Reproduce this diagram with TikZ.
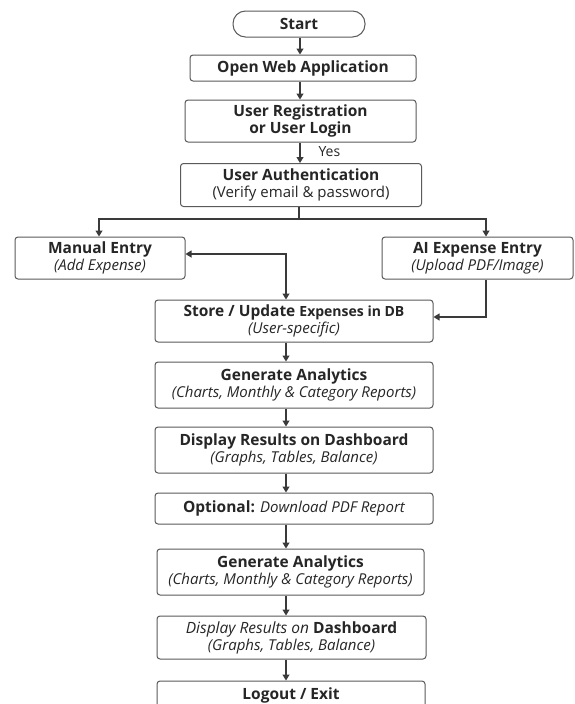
\documentclass[tikz,border=0pt]{standalone}
\usepackage{fontspec}
\setmainfont{Open Sans}
\usetikzlibrary{arrows.meta}
\definecolor{boxc}{HTML}{5A5A5A}
\definecolor{linec}{HTML}{3A3A3A}
\definecolor{txt}{HTML}{262626}
\newcommand\hd[1]{{\fontsize{15.5}{17}\selectfont\bfseries #1}}
\newcommand\sbt[1]{{\fontsize{15}{17}\selectfont\itshape #1}}
\begin{document}
\begin{tikzpicture}[x=1pt,y=-1pt,
  box/.style={draw=boxc, line width=1pt, rounded corners=3pt, fill=white, align=center, inner sep=0pt, text=txt, font=\fontsize{15}{17}\selectfont},
  arr/.style={draw=linec, line width=1.1pt, -{Triangle[width=7pt,length=6pt]}},
  arrtwo/.style={draw=linec, line width=1.1pt, {Triangle[width=7pt,length=6pt]}-{Triangle[width=7pt,length=6pt]}},
  plain/.style={draw=linec, line width=1.1pt},
]
\clip (0,0) rectangle (574,704);
\fill[white] (0,0) rectangle (574,704);

\node[box, rounded corners=12.5pt, minimum width=132pt, minimum height=26pt] (start) at (299,24) {\hd{Start}};
\node[box, minimum width=226pt, minimum height=26pt] (open) at (303,68) {\hd{Open Web Application}};
\node[box, minimum width=231pt, minimum height=42pt] (reg) at (300.5,121) {\hd{User Registration}\\\hd{or User Login}};
\node[box, minimum width=241pt, minimum height=43pt] (auth) at (301,185) {\hd{User Authentication}\\{\fontsize{15}{17}\selectfont (Verify email \& password)}};
\node[box, minimum width=170pt, minimum height=42pt] (man) at (100,258) {\hd{Manual Entry}\\\sbt{(Add Expense)}};
\node[box, minimum width=191pt, minimum height=42pt] (ai) at (477.5,258) {\hd{AI Expense Entry}\\\sbt{(Upload PDF/Image)}};
\node[box, minimum width=278pt, minimum height=42pt] (store) at (294,321) {\hd{Store / Update }{\fontsize{14}{17}\selectfont\bfseries Expenses in DB}\\\sbt{(User-specific)}};
\node[box, minimum width=278pt, minimum height=46pt] (gen) at (294,385) {\hd{Generate Analytics}\\\sbt{(Charts, Monthly \& Category Reports)}};
\node[box, minimum width=278pt, minimum height=46pt] (disp) at (294,450) {\hd{Display Results on Dashboard}\\\sbt{(Graphs, Tables, Balance)}};
\node[box, minimum width=278pt, minimum height=31pt] (opt) at (294,508.5) {\hd{Optional:} \sbt{Download PDF Report}};
\node[box, minimum width=267pt, minimum height=46pt] (gentwo) at (290.5,572) {\hd{Generate Analytics}\\\sbt{(Charts, Monthly \& Category Reports)}};
\node[box, minimum width=269pt, minimum height=43pt] (disptwo) at (291.5,637.5) {{\fontsize{15.5}{17}\selectfont\itshape Display Results on }\hd{Dashboard}\\\sbt{(Graphs, Tables, Balance)}};
\node[box, minimum width=268pt, minimum height=28pt] (logout) at (291,695) {\hd{Logout / Exit}};

\coordinate (cx) at (300,0);
\coordinate (lx) at (286,0);
\coordinate (aix) at (486,0);
\coordinate (j) at (299,219);

\draw[arr] (start.south -| cx) -- (open.north -| cx);
\draw[arr] (open.south -| cx) -- (reg.north -| cx);
\draw[arr] (reg.south -| cx) -- (auth.north -| cx);
\node[text=txt, font=\fontsize{14}{16}\selectfont, anchor=west] (yes) at (315,152) {Yes};

\draw[plain] (auth.south -| j) -- (j);
\draw[arr] (j) -| (man.north -| 99,0);
\draw[arr] (j) -| (ai.north -| aix);
\draw[arrtwo] ([yshift=4pt]man.east) -| (store.north -| lx);
\draw[arr] (ai.south -| aix) |- ([yshift=4pt]store.east);

\draw[arr] (store.south -| lx) -- (gen.north -| lx);
\draw[arr] (gen.south -| lx) -- (disp.north -| lx);
\draw[arr] (disp.south -| lx) -- (opt.north -| lx);
\draw[arr] (opt.south -| lx) -- (gentwo.north -| lx);
\draw[arr] (gentwo.south -| lx) -- (disptwo.north -| lx);
\draw[arr] (disptwo.south -| lx) -- (logout.north -| lx);
\end{tikzpicture}
\end{document}
